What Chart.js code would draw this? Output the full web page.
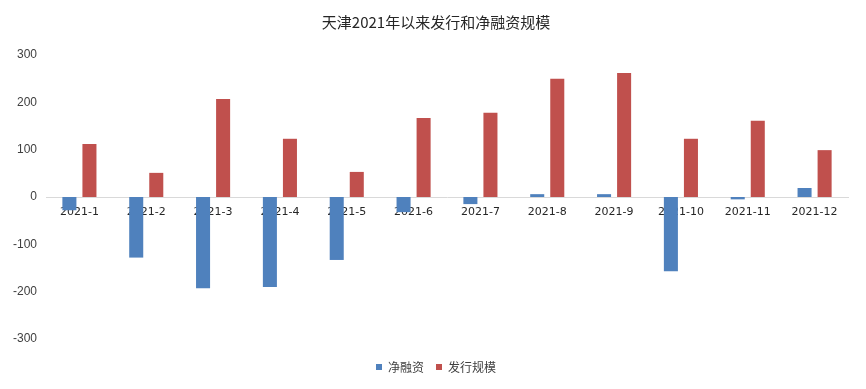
<!DOCTYPE html>
<html>
<head>
<meta charset="utf-8">
<script src="https://cdn.jsdelivr.net/npm/chart.js@4"></script>
<style>
  html, body { margin: 0; padding: 0; background: #fff; }
  #wrap { width: 866px; height: 389px; }
</style>
</head>
<body>
<div id="wrap"><canvas id="myChart"></canvas></div>
<script>
var months = ['2021-1', '2021-2', '2021-3', '2021-4', '2021-5', '2021-6',
              '2021-7', '2021-8', '2021-9', '2021-10', '2021-11', '2021-12'];
// 净融资 (net financing)
var netFinancing = [-28, -128, -193, -190, -133, -32, -15, 6, 6, -157, -5, 19];
// 发行规模 (issuance)
var issuance = [112, 51, 207, 123, 53, 167, 178, 250, 262, 123, 161, 99];
var yTicks = [-300, -200, -100, 0, 100, 200, 300];

var fontFamily = "'Noto Sans CJK SC', 'DejaVu Sans', sans-serif";

// shift a box's drawing by dx, dy without touching the layout
function nudge(box, dx, dy) {
  var draw = box.draw;
  box.draw = function () {
    var c = this.ctx;
    c.save();
    c.translate(dx, dy);
    draw.apply(this, arguments);
    c.restore();
  };
}

// legend box: fixed height, items nudged; title nudged to plot centre
var placeBoxes = {
  id: 'placeBoxes',
  beforeLayout: function (chart) {
    if (chart._placed) return;
    var lg = chart.legend;
    if (lg) {
      var fit = lg.fit;
      lg.fit = function () {
        fit.call(this);
        this.height = 50;
      };
      nudge(lg, -11, 10);
    }
    if (chart.titleBlock) nudge(chart.titleBlock, 12, 0);
    chart._placed = true;
  }
};

var ctx = document.getElementById('myChart').getContext('2d');

var myChart = new Chart(ctx, {
  type: 'bar',
  data: {
    labels: months,
    datasets: [{
      label: '净融资',
      data: netFinancing,
      backgroundColor: '#4F81BD'
    }, {
      label: '发行规模',
      data: issuance,
      backgroundColor: '#C0504D'
    }]
  },
  plugins: [placeBoxes],
  options: {
    responsive: true,
    maintainAspectRatio: false,
    animation: false,
    categoryPercentage: 0.6,
    barPercentage: 0.7,
    layout: {
      padding: { left: 0, right: 18, top: 0, bottom: 0 }
    },
    plugins: {
      title: {
        display: true,
        text: '天津2021年以来发行和净融资规模',
        color: '#262626',
        font: { family: fontFamily, size: 15, weight: 'normal' },
        padding: { top: 13, bottom: 24 }
      },
      legend: {
        position: 'bottom',
        fullSize: false,
        labels: {
          boxWidth: 6,
          boxHeight: 6,
          color: '#404040',
          font: { family: fontFamily, size: 12 },
          padding: 12
        }
      },
      tooltip: { enabled: false }
    },
    scales: {
      x: {
        position: { y: 0 },
        z: 1,
        grid: { display: false },
        border: { display: true, color: '#d9d9d9', width: 1 },
        ticks: {
          color: '#262626',
          font: { family: "'DejaVu Sans', sans-serif", size: 11 },
          maxRotation: 0,
          autoSkip: false,
          padding: 1
        }
      },
      y: {
        min: -300,
        max: 300,
        afterBuildTicks: function (scale) {
          scale.ticks = yTicks.map(function (v) { return { value: v }; });
        },
        afterFit: function (scale) { scale.width = 46; },
        grid: { display: false, drawTicks: false },
        border: { display: false },
        ticks: {
          color: '#404040',
          font: { family: "'Liberation Sans', sans-serif", size: 12 },
          padding: 9
        }
      }
    }
  }
});
</script>
</body>
</html>
